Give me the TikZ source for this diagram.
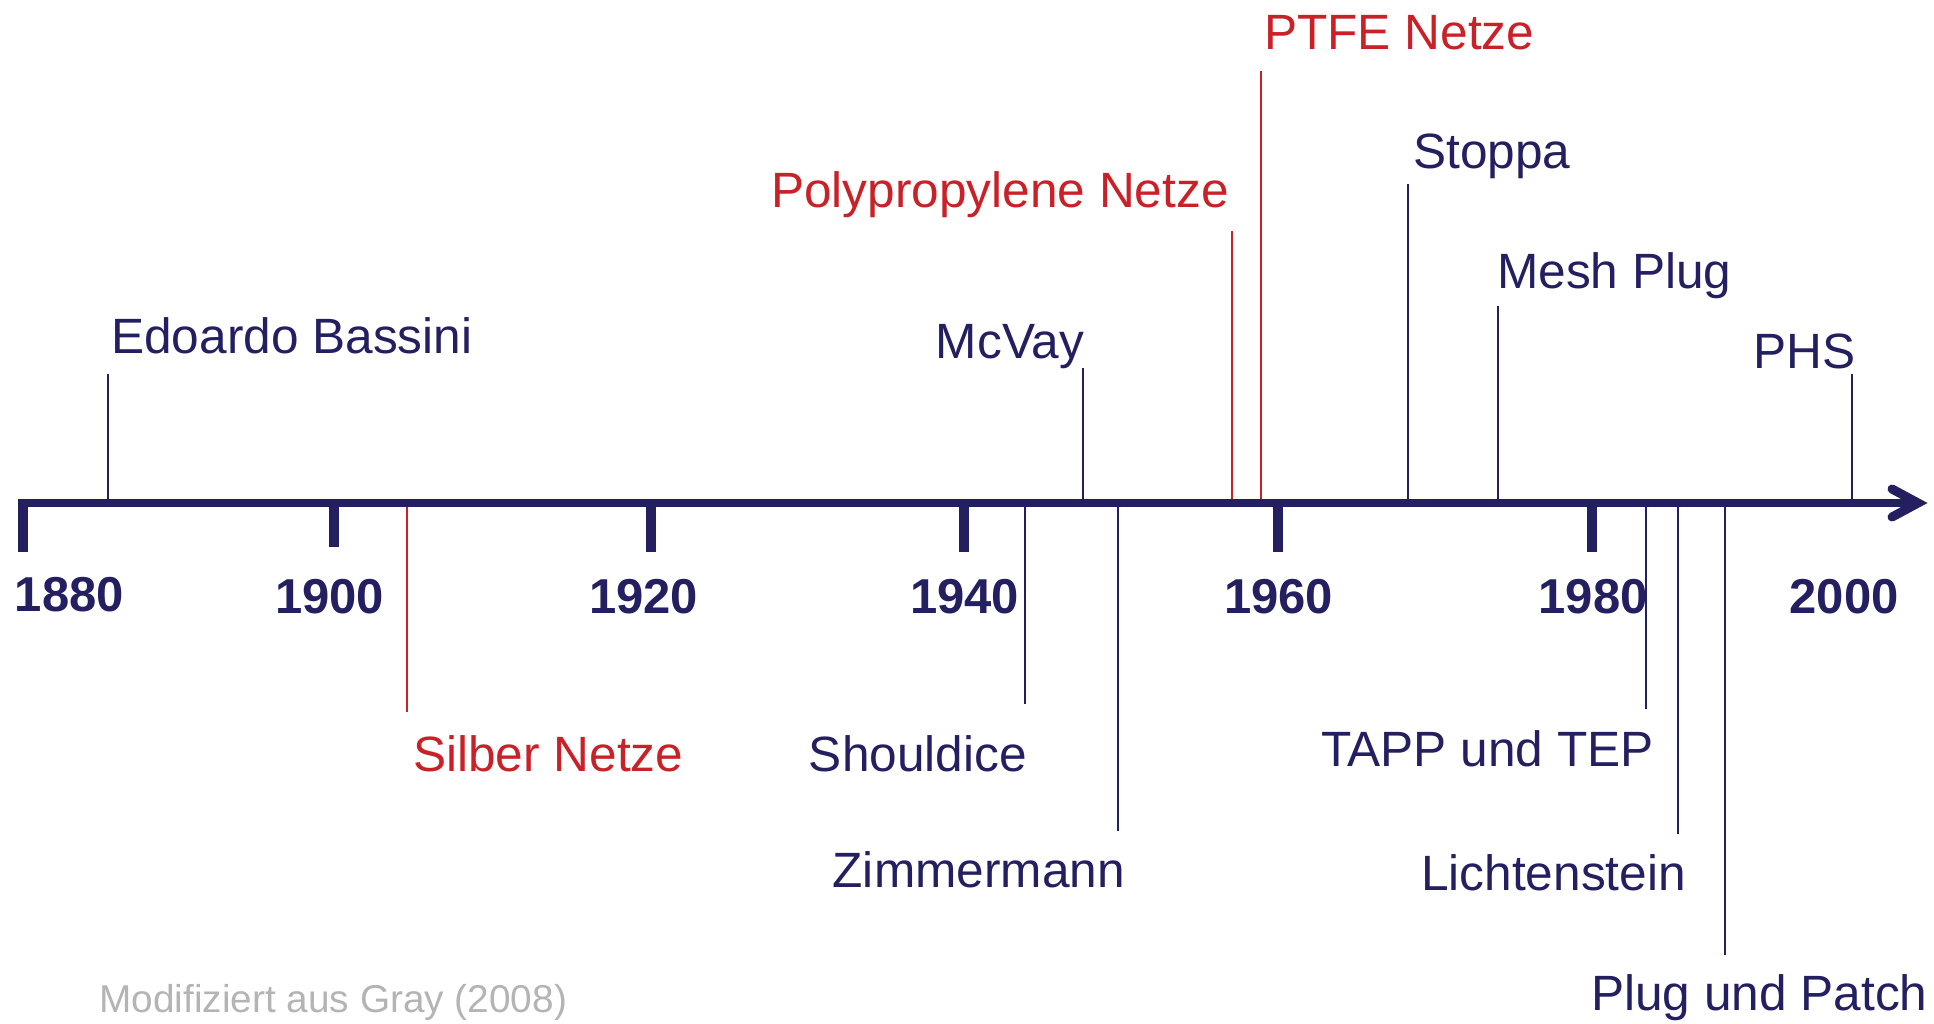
\documentclass[tikz,border=0pt]{standalone}
\usepackage{fontspec}
\setmainfont{Liberation Sans}
\definecolor{navy}{RGB}{35,31,96}
\definecolor{netzrot}{RGB}{200,34,40}
\definecolor{quelle}{RGB}{180,180,180}

\begin{document}
\begin{tikzpicture}
  [x=1pt, y=-1pt,
   stem/.style={line width=1.4pt},
   yrtick/.style={navy, line width=10pt},
   evtext/.style={inner sep=0pt, font=\fontsize{49.6}{58}\selectfont},
   yrtext/.style={inner sep=0pt, anchor=base, text=navy,
                  font=\fontsize{49}{58}\selectfont\bfseries}]
  \useasboundingbox (0,0) rectangle (1934,1023);
    \foreach \n/\x/\y/\lx/\ly/\a/\c/\t in {
        bassini/108/374/111/353/base west/navy/Edoardo Bassini,
        silber/407/712/413/771/base west/netzrot/Silber Netze,
        shouldice/1025/704/1027/771/base east/navy/Shouldice,
        mcvay/1083/368/1084/358/base east/navy/McVay,
        zimmermann/1118/831/1125/887/base east/navy/Zimmermann,
        poly/1232/231/1229/207/base east/netzrot/Polypropylene Netze,
        ptfe/1261/71/1264/49/base west/netzrot/PTFE Netze,
        stoppa/1408/184/1413/168/base west/navy/Stoppa,
        meshplug/1498/306/1497/288/base west/navy/Mesh Plug,
        tapp/1646/709/1654/766/base east/navy/TAPP und TEP,
        lichtenstein/1678/834/1686/890/base east/navy/Lichtenstein,
        plugpatch/1725/955/1591/1010/base west/navy/Plug und Patch,
        phs/1852/374/1856/368/base east/navy/PHS}{
      \coordinate (a\n) at (\x,503);
      \coordinate (e\n) at (\x,\y);
      \draw[stem, draw=\c] (a\n) -- (e\n);
      \node[evtext, text=\c, anchor=\a] (\n) at (\lx,\ly) {\t};}
  \coordinate (start) at (18,503);
  \coordinate (tip) at (1918,503);
  \coordinate (barbl) at (1892,489);
  \coordinate (barbr) at (1892,517);
  \draw[navy, line width=8pt] (start) -- (tip);
  \draw[navy, line width=9pt, line cap=round, line join=miter]
    (barbl) -- (tip) -- (barbr);
    \foreach \yr/\x/\b in {1880/23/552,1900/334/547,1920/651/552,
                  1940/964/552,1960/1278/552,1980/1592/552}{
      \coordinate (t\yr) at (\x,503);
      \coordinate (b\yr) at (\x,\b);
      \draw[yrtick] (t\yr) -- (b\yr);}
    \foreach \yr/\x/\y in {1880/69.5/611,1900/329.5/613,1920/643.5/613,
                  1940/964.5/613,1960/1278.5/613,1980/1593/613,2000/1844/613}{
      \node[yrtext] (y\yr) at (\x,\y) {\yr};}
  \node[inner sep=0pt, anchor=base west, text=quelle,
        font=\fontsize{38.8}{46}\selectfont] (quelle) at (99,1012)
        {Modifiziert aus Gray (2008)};
\end{tikzpicture}
\end{document}
